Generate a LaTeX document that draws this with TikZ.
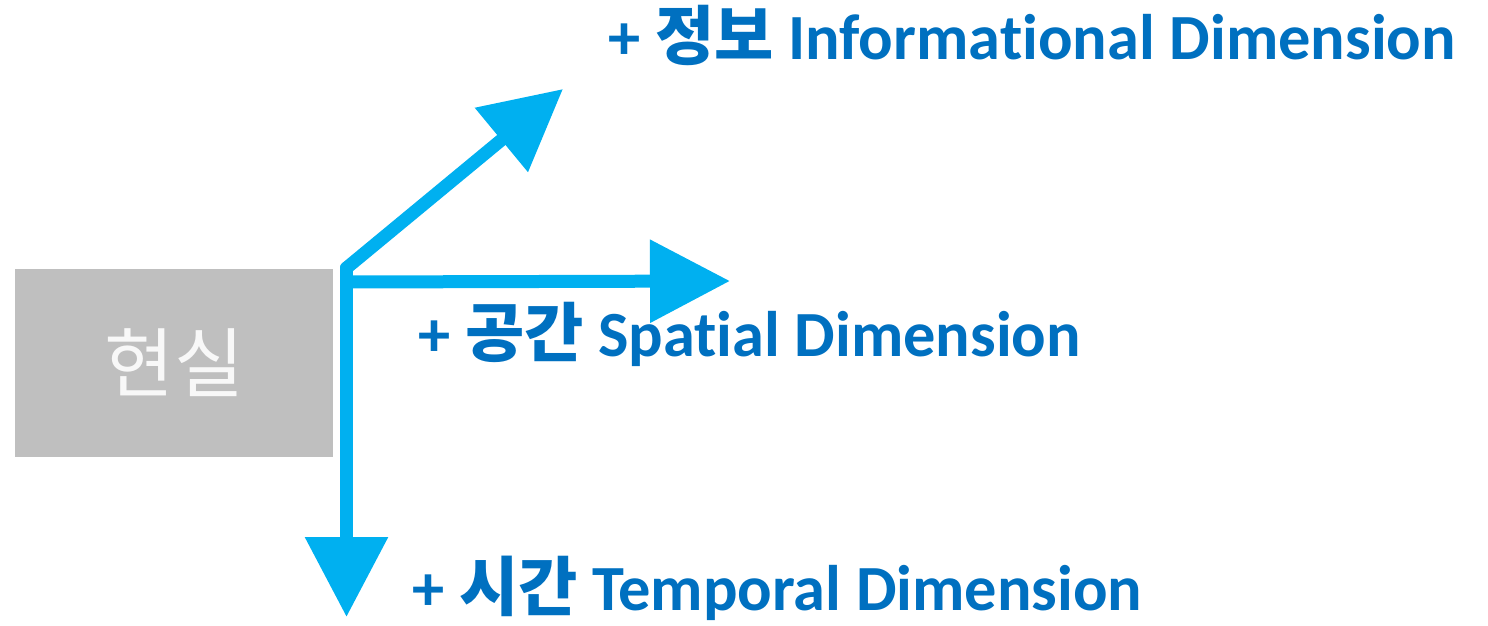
\documentclass[tikz,border=0pt]{standalone}
\usepackage{fontspec}
\setmainfont{Carlito}[Ligatures=NoCommon]
\newfontfamily\kr{Noto Sans CJK KR}
\usetikzlibrary{arrows.meta}
\definecolor{arrowc}{HTML}{00B0F0}
\definecolor{textc}{HTML}{0070C0}
\definecolor{boxc}{HTML}{BFBFBF}
\definecolor{boxtext}{HTML}{F8F8F8}
\begin{document}
\begin{tikzpicture}[x=0.5pt,y=-0.5pt,
  dimarrow/.style={draw=arrowc,line width=6.5pt,line join=round,line cap=round,
    -{Triangle[length=40pt,width=40pt]}},
  dimlabel/.style={anchor=base west,inner sep=0pt,text=textc,font=\fontsize{32.2}{38}\selectfont\bfseries},
  realbox/.style={fill=boxc,inner sep=0pt,minimum width=159pt,minimum height=94pt,
    text=boxtext,font=\kr\fontsize{38}{44}\selectfont}]
\useasboundingbox (0,0) rectangle (1488,626);
\node[realbox] (real) at (174,363) {현실};
\coordinate (o) at (346.5,268);
\coordinate (oh) at (346.5,282);
\coordinate (tinfo) at (563,89);
\coordinate (tspace) at (730,281);
\coordinate (ttime) at (346.5,617);
\draw[dimarrow] (o) -- (tinfo);
\draw[dimarrow] (o) -- (ttime);
\draw[dimarrow,line cap=butt] (oh) -- (tspace);
\node[dimlabel] (info) at (608,60) {+ {\kr 정보} Informational Dimension};
\node[dimlabel] (space) at (418,356) {+ {\kr 공간} Spatial Dimension};
\node[dimlabel] (time) at (412,610) {+ {\kr 시간} Temporal Dimension};
\end{tikzpicture}
\end{document}
